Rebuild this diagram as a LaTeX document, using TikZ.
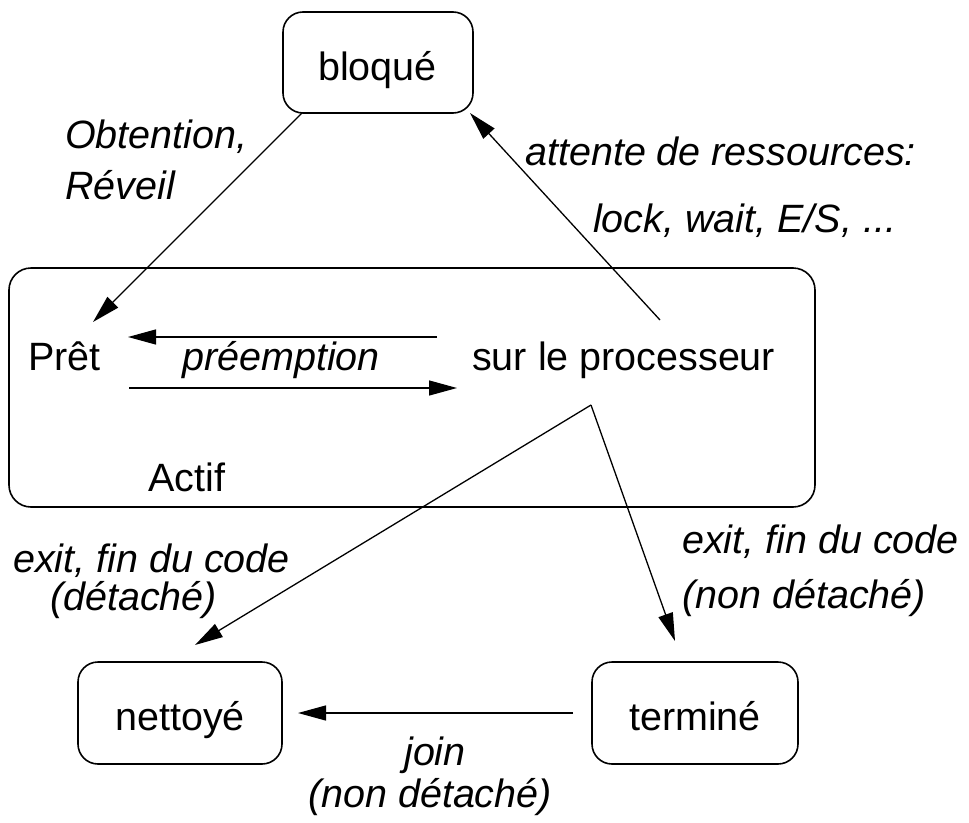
\documentclass[tikz,border=0pt]{standalone}
\usepackage{fontspec}
\setmainfont{Liberation Sans}
\usetikzlibrary{arrows.meta}
\begin{document}
\begin{tikzpicture}[x=1pt,y=-1pt,
  statebox/.style={draw, line width=1.6pt, rounded corners=20pt, inner sep=0pt},
  txt/.style={inner sep=0pt, font=\fontsize{39.5}{47}\selectfont},
  lbl/.style={inner sep=0pt, font=\fontsize{39.5}{47}\selectfont\itshape},
  trans/.style={line width=1.3pt, -{Triangle[length=28pt,width=15pt]}}]
\useasboundingbox (0,0) rectangle (969,822);

% state boxes
\node[statebox, minimum width=190pt, minimum height=101pt] (bloque) at (378,62.5) {};
\node[statebox, minimum width=806pt, minimum height=239pt, rounded corners=22pt] (actif) at (412,387.5) {};
\node[statebox, minimum width=204pt, minimum height=102pt] (nettoye) at (180,713) {};
\node[statebox, minimum width=206pt, minimum height=102pt] (termine) at (695,713) {};

% state names
\node[txt, anchor=base west] (bloque-t) at (318,80) {bloqué};
\node[txt, anchor=base west] (pret) at (28,370) {Prêt};
\node[txt, anchor=base west] (proc) at (472,370) {sur le processeur};
\node[txt, anchor=base west] (actif-t) at (148,491) {Actif};
\node[txt, anchor=base] (nettoye-t) at (180,730) {nettoyé};
\node[txt, anchor=base] (termine-t) at (695,730) {terminé};

% transition labels
\node[lbl, anchor=base west] (preempt) at (182,370) {préemption};
\node[lbl, anchor=base west] (obt1) at (65,148) {Obtention,};
\node[lbl, anchor=base west] (obt2) at (65,199) {Réveil};
\node[lbl, anchor=base west] (att1) at (525,165) {attente de ressources:};
\node[lbl, anchor=base west] (att2) at (593,232) {lock, wait, E/S, ...};
\node[lbl, anchor=base west] (exd1) at (13,572) {exit, fin du code};
\node[lbl, anchor=base west] (exd2) at (50,610) {(détaché)};
\node[lbl, anchor=base west] (exn1) at (682,553) {exit, fin du code};
\node[lbl, anchor=base west] (exn2) at (682,608) {(non détaché)};
\node[lbl, anchor=base] (join1) at (435,765) {join};
\node[lbl, anchor=base] (join2) at (430,807) {(non détaché)};

% connector end points
\coordinate (bq-out) at (302,113);
\coordinate (pret-in) at (93,322);
\coordinate (proc-out) at (660,320);
\coordinate (bq-in) at (470,113);
\coordinate (pre-a) at (437,337);
\coordinate (pre-b) at (128,337);
\coordinate (run-a) at (129,388);
\coordinate (run-b) at (457,388);
\coordinate (fork) at (591,405);
\coordinate (net-in) at (195,645);
\coordinate (ter-in) at (675,641);
\coordinate (join-a) at (573,713);
\coordinate (join-b) at (298,713);

% transitions
\draw[trans] (bq-out) -- (pret-in);
\draw[trans] (proc-out) -- (bq-in);
\draw[trans] (pre-a) -- (pre-b);
\draw[trans] (run-a) -- (run-b);
\draw[trans] (fork) -- (net-in);
\draw[trans] (fork) -- (ter-in);
\draw[trans] (join-a) -- (join-b);
\end{tikzpicture}
\end{document}
